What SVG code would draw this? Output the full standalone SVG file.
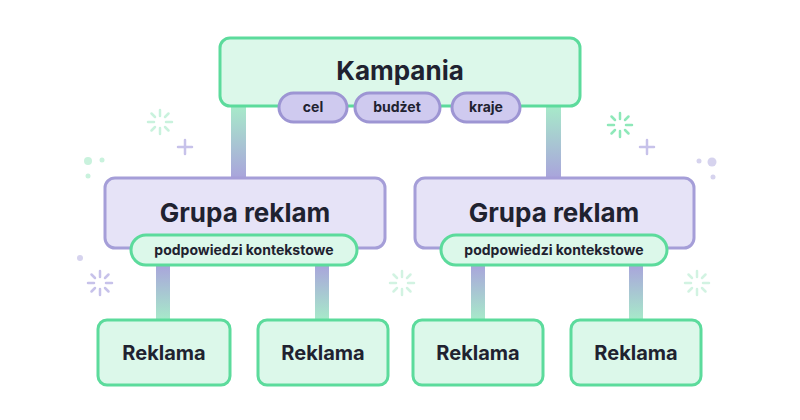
<svg xmlns="http://www.w3.org/2000/svg" width="800" height="420" viewBox="0 0 800 420">
<defs>
<linearGradient id="gdown" x1="0" y1="0" x2="0" y2="1"><stop offset="0" stop-color="#a7ebc9"/><stop offset="1" stop-color="#a9a2dc"/></linearGradient>
<linearGradient id="gup" x1="0" y1="0" x2="0" y2="1"><stop offset="0" stop-color="#a9a2dc"/><stop offset="1" stop-color="#a7ebc9"/></linearGradient>
<g id="spark" stroke-width="2.5" stroke-linecap="round"><path d="M0,-12V-6M0,6V12M-12,0H-6M6,0H12M-8.5,-8.5L-5,-5M5,5L8.5,8.5M8.5,-8.5L5,-5M-5,5L-8.5,8.5"/></g>
</defs>
<style>
.g{fill:#dcf8ea;stroke:#5cdb9c;stroke-width:3}
.p{fill:#e6e3f7;stroke:#a59ed8;stroke-width:3}
.pp{fill:#cfcaef;stroke:#9d95d3;stroke-width:3}
.gp{fill:#dcf8ea;stroke:#5cdb9c;stroke-width:3}
text{font-family:Inter,"Liberation Sans",sans-serif;font-weight:700;fill:#1f2230;text-anchor:middle}
.big{font-size:26px}
.mid{font-size:20px}
.sm{font-size:14px}
</style>
<rect width="800" height="420" fill="#ffffff"/>
<g id="decor">
<use href="#spark" x="160" y="122" stroke="#c9f2dd"/>
<use href="#spark" x="620" y="125" stroke="#8ee8b9"/>
<use href="#spark" x="100" y="283" stroke="#c7c2ea"/>
<use href="#spark" x="402" y="283" stroke="#d2f3e2"/>
<use href="#spark" x="697" y="283" stroke="#d2f3e2"/>
<path d="M185,140v14M178,147h14M647,140v14M640,147h14" stroke="#c7c2ea" stroke-width="2.5" stroke-linecap="round"/>
<circle cx="88" cy="161" r="4" fill="#c9f2dd"/><circle cx="102" cy="160" r="2.5" fill="#c9f2dd"/><circle cx="88" cy="176" r="2.5" fill="#c9f2dd"/>
<circle cx="712" cy="162" r="4.5" fill="#d6d3ee"/><circle cx="699" cy="161" r="2.5" fill="#d6d3ee"/><circle cx="713" cy="177" r="2.5" fill="#d6d3ee"/>
<circle cx="80" cy="258" r="3" fill="#d6d3ee"/>
</g>
<g id="connectors">
<rect x="231" y="105" width="15" height="75" fill="url(#gdown)"/>
<rect x="546" y="105" width="15" height="75" fill="url(#gdown)"/>
<rect x="156" y="263" width="14" height="58" fill="url(#gup)"/>
<rect x="315" y="263" width="14" height="58" fill="url(#gup)"/>
<rect x="471" y="263" width="14" height="58" fill="url(#gup)"/>
<rect x="629" y="263" width="14" height="58" fill="url(#gup)"/>
</g>
<g id="kampania">
<rect class="g" x="220" y="38" width="360" height="68" rx="10"/>
<text class="big" x="400" y="80">Kampania</text>
</g>
<g id="pill-cel"><rect class="pp" x="279" y="93" width="68" height="29" rx="14.5"/><text class="sm" x="313" y="112">cel</text></g>
<g id="pill-budzet"><rect class="pp" x="355" y="93" width="85" height="29" rx="14.5"/><text class="sm" x="397" y="112">budżet</text></g>
<g id="pill-kraje"><rect class="pp" x="452" y="93" width="68" height="29" rx="14.5"/><text class="sm" x="486" y="112">kraje</text></g>
<g id="grupa1">
<rect class="p" x="105" y="178" width="280" height="70" rx="10"/>
<text class="big" x="245" y="222">Grupa reklam</text>
<rect class="gp" x="131" y="235" width="226" height="30" rx="15"/>
<text class="sm" x="244" y="255">podpowiedzi kontekstowe</text>
</g>
<g id="grupa2">
<rect class="p" x="415" y="178" width="279" height="70" rx="10"/>
<text class="big" x="554" y="222">Grupa reklam</text>
<rect class="gp" x="441" y="235" width="226" height="30" rx="15"/>
<text class="sm" x="554" y="255">podpowiedzi kontekstowe</text>
</g>
<g id="reklama1"><rect class="g" x="98" y="320" width="132" height="65" rx="9"/><text class="mid" x="164" y="360">Reklama</text></g>
<g id="reklama2"><rect class="g" x="258" y="320" width="130" height="65" rx="9"/><text class="mid" x="323" y="360">Reklama</text></g>
<g id="reklama3"><rect class="g" x="413" y="320" width="130" height="65" rx="9"/><text class="mid" x="478" y="360">Reklama</text></g>
<g id="reklama4"><rect class="g" x="571" y="320" width="130" height="65" rx="9"/><text class="mid" x="636" y="360">Reklama</text></g>
</svg>
